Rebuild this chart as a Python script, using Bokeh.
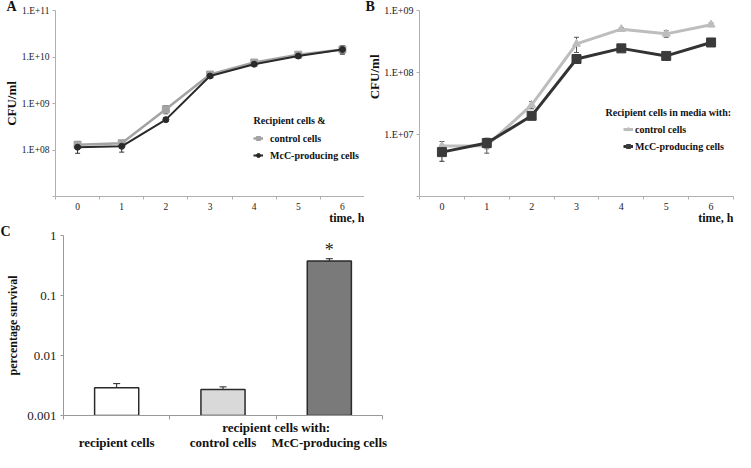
from bokeh.plotting import figure
from bokeh.models import (ColumnDataSource, Whisker, TeeHead, FixedTicker, Range1d,
                          Label, Legend, LegendItem, LinearAxis, Title)
from bokeh.layouts import column, row
from bokeh.embed import file_html
from bokeh.resources import INLINE

FONT = "Liberation Serif"

# ---------------- data ----------------
hours = [0, 1, 2, 3, 4, 5, 6]

# Panel A
a_control = [1.3e8, 1.4e8, 7.5e8, 4.2e9, 7.6e9, 1.12e10, 1.45e10]
a_control_err = [2.0e7, 2.0e7, 1.5e8, 4.0e8, 6.0e8, 9.0e8, 2.5e9]
a_mcc = [1.15e8, 1.2e8, 4.5e8, 3.9e9, 7.0e9, 1.05e10, 1.45e10]
a_mcc_err = [3.0e7, 3.0e7, 4.0e7, 3.0e8, 5.0e8, 8.0e8, 3.0e9]
a_ticks = [1e7, 1e8, 1e9, 1e10, 1e11]
a_tick_labels = ["", "1.E+08", "1.E+09", "1.E+10", "1.E+11"]

# Panel B
b_control = [6.5e6, 6.6e6, 3.0e7, 2.9e8, 5.0e8, 4.2e8, 5.9e8]
b_control_err = [1.2e6, 1.6e6, 4.0e6, 8.0e7, 3.0e7, 5.0e7, 4.0e7]
b_mcc = [5.2e6, 7.3e6, 2.0e7, 1.65e8, 2.45e8, 1.85e8, 3.05e8]
b_mcc_err = [1.5e6, 1.4e6, 2.5e6, 2.5e7, 1.5e7, 1.2e7, 2.0e7]
b_ticks = [1e6, 1e7, 1e8, 1e9]
b_tick_labels = ["", "1.E+07", "1.E+08", "1.E+09"]

# Panel C
c_groups = ["recipient cells", "control cells", "McC-producing cells"]
c_group_title = "recipient cells with:"
c_values = [0.0029, 0.0027, 0.375]
c_err_low = [0.0025, 0.0024, 0.34]
c_err_high = [0.0034, 0.0030, 0.41]
c_colors = ["#ffffff", "#d9d9d9", "#7a7a7a"]
c_ticks = [0.001, 0.01, 0.1, 1]
c_tick_labels = ["0.001", "0.01", "0.1", "1"]


def base_style(p, axis_color, label_size):
    p.xgrid.visible = False
    p.ygrid.visible = False
    p.outline_line_color = None
    p.background_fill_color = "white"
    p.border_fill_color = "white"
    for ax in (p.xaxis[0], p.yaxis[0]):
        ax.axis_line_color = axis_color
        ax.major_tick_line_color = axis_color
        ax.minor_tick_line_color = axis_color
        ax.major_label_text_font = FONT
        ax.major_label_text_color = "#222222"
        ax.major_label_text_font_size = label_size


def panel_letter(p, letter, offset):
    p.title.text = letter
    p.title.align = "left"
    p.title.offset = offset
    p.title.standoff = -7
    p.title.vertical_align = "bottom"
    p.title.text_font = FONT
    p.title.text_font_style = "bold"
    p.title.text_font_size = "14px"
    p.title.text_color = "#111111"


def y_title(p, text, size):
    ya = p.yaxis[0]
    ya.axis_label = text
    ya.axis_label_text_font = FONT
    ya.axis_label_text_font_style = "bold"
    ya.axis_label_text_font_size = size
    ya.axis_label_text_color = "#111111"
    ya.axis_label_standoff = 0


def time_axes(p, yticks, ylabels, axis_color, label_size):
    base_style(p, axis_color, label_size)
    xa = p.xaxis[0]
    xa.ticker = FixedTicker(ticks=hours, minor_ticks=[h - 0.5 for h in hours] + [hours[-1] + 0.5])
    xa.major_tick_out = 0
    xa.major_tick_in = 0
    xa.minor_tick_out = 3
    xa.minor_tick_in = 0
    xa.major_label_standoff = 3
    ya = p.yaxis[0]
    ya.ticker = FixedTicker(ticks=yticks, minor_ticks=[])
    ya.major_label_overrides = {float(t): l for t, l in zip(yticks, ylabels)}
    ya.major_tick_out = 3
    ya.major_tick_in = 0
    ya.minor_tick_out = 0
    ya.minor_tick_in = 0
    ya.major_label_standoff = 3
    p.add_layout(Title(text="time, h", align="right", vertical_align="top", standoff=-3,
                       text_font=FONT, text_font_style="bold", text_font_size="12px",
                       text_color="#111111"), "below")


def err_source(x, y, e):
    return ColumnDataSource(dict(x=x, y=y,
                                 upper=[a + b for a, b in zip(y, e)],
                                 lower=[a - b for a, b in zip(y, e)]))


def add_whisker(p, src, color="#333333", size=5):
    p.add_layout(Whisker(source=src, base="x", upper="upper", lower="lower",
                         line_color=color, line_width=1,
                         upper_head=TeeHead(size=size, line_color=color, line_width=1),
                         lower_head=TeeHead(size=size, line_color=color, line_width=1)))


def text_label(p, x, y, text, size):
    p.add_layout(Label(x=x, y=y, x_units="screen", y_units="screen", text=text,
                       text_font=FONT, text_font_style="bold", text_font_size=size,
                       text_align="left", text_baseline="middle", text_color="#111111"))


def legend(p, items, loc, standoff):
    leg = Legend(items=items, location=loc, orientation="vertical", padding=0, margin=0,
                 spacing=3, label_height=14, glyph_height=14, glyph_width=10,
                 label_standoff=standoff, background_fill_alpha=0, border_line_alpha=0,
                 label_text_font=FONT, label_text_font_style="bold",
                 label_text_font_size="10px", label_text_color="#111111")
    p.add_layout(leg)


# ---------------- Panel A ----------------
pA = figure(width=364, height=225, min_border_left=42, min_border_right=0,
            min_border_top=10, min_border_bottom=20,
            x_range=Range1d(-0.5, 6.5), y_range=Range1d(a_ticks[0], a_ticks[-1]),
            y_axis_type="log", toolbar_location=None, output_backend="svg")
time_axes(pA, a_ticks, a_tick_labels, "#b0b0b0", "9.5px")
y_title(pA, "CFU/ml", "13px")
panel_letter(pA, "A", -49)

sA_c = err_source(hours, a_control, a_control_err)
sA_m = err_source(hours, a_mcc, a_mcc_err)
rAcl = pA.line("x", "y", source=sA_c, line_color="#a3a3a3", line_width=2.5)
rAcp = pA.scatter("x", "y", source=sA_c, marker="square", size=7,
                  fill_color="#a3a3a3", line_color="#a3a3a3")
rAml = pA.line("x", "y", source=sA_m, line_color="#2a2a2a", line_width=2)
rAmp = pA.scatter("x", "y", source=sA_m, marker="circle", size=6,
                  fill_color="#2a2a2a", line_color="#2a2a2a")
add_whisker(pA, sA_c, "#555555")
add_whisker(pA, sA_m, "#333333")

legend(pA, [LegendItem(label="control cells", renderers=[rAcl, rAcp]),
            LegendItem(label="McC-producing cells", renderers=[rAml, rAmp])], (198, 34), 7)
text_label(pA, 198, 76, "Recipient cells &", "10px")

# ---------------- Panel B ----------------
pB = figure(width=371, height=225, min_border_left=54, min_border_right=2,
            min_border_top=10, min_border_bottom=20,
            x_range=Range1d(-0.5, 6.5), y_range=Range1d(b_ticks[0], b_ticks[-1]),
            y_axis_type="log", toolbar_location=None, output_backend="svg")
time_axes(pB, b_ticks, b_tick_labels, "#b0b0b0", "10px")
pB.add_layout(Title(text="CFU/ml", align="right", offset=44, vertical_align="bottom", standoff=0,
                    text_font=FONT, text_font_style="bold", text_font_size="13px",
                    text_color="#111111"), "left")
panel_letter(pB, "B", -54)

sB_c = err_source(hours, b_control, b_control_err)
sB_m = err_source(hours, b_mcc, b_mcc_err)
rBcl = pB.line("x", "y", source=sB_c, line_color="#bdbdbd", line_width=3)
rBcp = pB.scatter("x", "y", source=sB_c, marker="triangle", size=8,
                  fill_color="#bdbdbd", line_color="#bdbdbd")
rBml = pB.line("x", "y", source=sB_m, line_color="#333333", line_width=3)
rBmp = pB.scatter("x", "y", source=sB_m, marker="square", size=9,
                  fill_color="#3a3a3a", line_color="#3a3a3a")
add_whisker(pB, sB_c, "#555555")
add_whisker(pB, sB_m, "#333333")

legend(pB, [LegendItem(label="control cells", renderers=[rBcl, rBcp]),
            LegendItem(label="McC-producing cells", renderers=[rBml, rBmp])], (204, 43), 2)
text_label(pB, 186, 84, "Recipient cells in media with:", "10px")

# ---------------- Panel C ----------------
xs = list(range(1, len(c_groups) + 1))
pC = figure(width=402, height=227, min_border_left=63, min_border_right=20,
            min_border_top=10, min_border_bottom=20,
            x_range=Range1d(0.5, len(c_groups) + 0.5), y_range=Range1d(c_ticks[0], c_ticks[-1]),
            y_axis_type="log", toolbar_location=None, output_backend="svg")
base_style(pC, "#999999", "13px")
panel_letter(pC, "C", -63)
sC = ColumnDataSource(dict(x=xs, top=c_values, bottom=[c_ticks[0]] * len(xs), color=c_colors,
                           upper=c_err_high, lower=c_err_low))
pC.vbar(x="x", top="top", bottom="bottom", width=0.415, fill_color="color",
        line_color="#2a2a2a", line_width=1.5, source=sC)
add_whisker(pC, sC, "#222222", 7)

group_pos = (xs[1] + xs[2]) / 2
xa = pC.xaxis[0]
xa.ticker = FixedTicker(ticks=[group_pos], minor_ticks=[x - 0.5 for x in xs] + [xs[-1] + 0.5])
xa.major_label_overrides = {group_pos: c_group_title}
xa.major_tick_out = 0
xa.major_tick_in = 0
xa.minor_tick_out = 4
xa.minor_tick_in = 0
xa.major_label_standoff = 0
xa.major_label_text_font_style = "bold"
xa.major_label_text_color = "#111111"

xa2 = LinearAxis(ticker=FixedTicker(ticks=xs, minor_ticks=[]),
                 major_label_overrides={x: g for x, g in zip(xs, c_groups)},
                 axis_line_color=None, major_tick_line_color=None, minor_tick_line_color=None,
                 major_tick_out=0, major_tick_in=0, minor_tick_out=0, minor_tick_in=0,
                 major_label_standoff=-3, major_label_text_font=FONT,
                 major_label_text_font_style="bold", major_label_text_font_size="13px",
                 major_label_text_color="#111111")
pC.add_layout(xa2, "below")

ya = pC.yaxis[0]
ya.ticker = FixedTicker(ticks=c_ticks, minor_ticks=[])
ya.major_label_overrides = {float(t): l for t, l in zip(c_ticks, c_tick_labels)}
ya.major_tick_out = 3
ya.major_tick_in = 0
ya.minor_tick_out = 0
ya.minor_tick_in = 0
ya.major_label_standoff = 4
y_title(pC, "percentage survival", "12px")
ya.axis_label_standoff = 4

pC.add_layout(Label(x=xs[2], y=c_err_high[2], y_offset=9, text="*", text_font=FONT,
                    text_font_size="18px", text_align="center", text_baseline="middle",
                    text_color="#222222"))

layout = column(row(pA, pB), pC)
open("out.html", "w").write(file_html(layout, INLINE))
